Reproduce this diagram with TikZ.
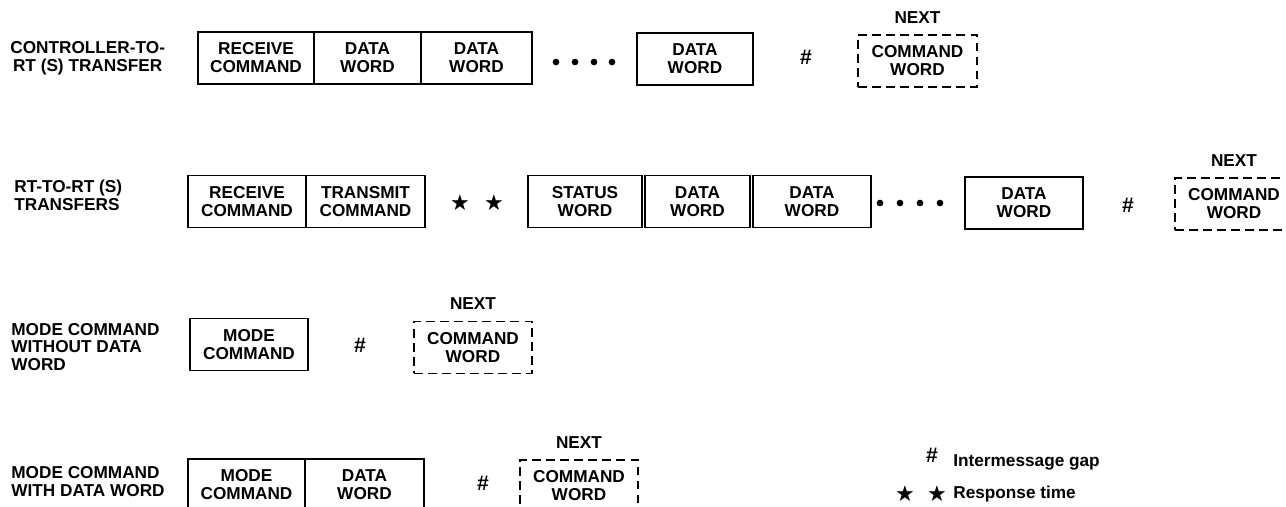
\documentclass[tikz,border=0pt]{standalone}
\usepackage{fontspec}
\setmainfont{Liberation Sans}
\newfontfamily\symfont{DejaVu Sans}
\usetikzlibrary{positioning}

\begin{document}
\begin{tikzpicture}[x=0.02cm, y=-0.02cm,
    every node/.style={inner sep=0pt, font=\bfseries\fontsize{9.8}{10.2}\selectfont},
    wordbox/.style={draw, line width=1.1pt, minimum height=1.04cm, align=center},
    nextbox/.style={wordbox, dash pattern=on 5pt off 3pt},
    gapmark/.style={font=\bfseries\fontsize{12}{12}\selectfont},
    resp/.style={font=\symfont\fontsize{12.5}{12.5}\selectfont}]
    \useasboundingbox (0,0) rectangle (1286,507);
    \clip (0,0) rectangle (1286,507);

    \node[anchor=west, align=center] (lbl1) at (10,58.5) {CONTROLLER-TO-\\RT (S) TRANSFER};
    \node[wordbox, minimum width=2.32cm] (cr) at (256,58) {RECEIVE\\COMMAND};
    \node[wordbox, minimum width=2.14cm] (cd1) at (367.5,58) {DATA\\WORD};
    \node[wordbox, minimum width=2.22cm] (cd2) at (476.5,58) {DATA\\WORD};
    \fill (556,62) circle (1.9pt);
    \fill (575,62) circle (1.9pt);
    \fill (594,62) circle (1.9pt);
    \fill (612,62) circle (1.9pt);
    \node[wordbox, minimum width=2.32cm] (cd3) at (695,59) {DATA\\WORD};
    \node[gapmark] (cg) at (806,57) {\#};
    \node[nextbox, minimum width=2.38cm] (cn) at (917.5,61) {COMMAND\\WORD};
    \node[above=6pt of cn] (cnx) {NEXT};

    \node[anchor=west, align=left] (lbl2) at (14,195) {RT-TO-RT (S)\\TRANSFERS};
    \node[wordbox, minimum width=2.36cm] (rr) at (247,201.5) {RECEIVE\\COMMAND};
    \node[wordbox, minimum width=2.38cm] (rt) at (365.5,201.5) {TRANSMIT\\COMMAND};
    \node[resp] (rs1) at (460,203) {★};
    \node[resp] (rs2) at (494,203) {★};
    \node[wordbox, minimum width=2.28cm] (rs) at (585,201.5) {STATUS\\WORD};
    \node[wordbox, minimum width=2.10cm] (rd1) at (697.5,201.5) {DATA\\WORD};
    \node[wordbox, minimum width=2.36cm] (rd2) at (812,201.5) {DATA\\WORD};
    \fill (880,203) circle (1.9pt);
    \fill (900,203) circle (1.9pt);
    \fill (920,203) circle (1.9pt);
    \fill (940,203) circle (1.9pt);
    \node[wordbox, minimum width=2.36cm] (rd3) at (1024,203) {DATA\\WORD};
    \node[gapmark] (rg) at (1128,205) {\#};
    \node[nextbox, minimum width=2.36cm] (rn) at (1234,204) {COMMAND\\WORD};
    \node[above=6pt of rn] (rnx) {NEXT};

    \node[anchor=west, align=left] (lbl3) at (11,347) {MODE COMMAND\\WITHOUT DATA\\WORD};
    \node[wordbox, minimum width=2.36cm] (mc) at (249,344.5) {MODE\\COMMAND};
    \node[gapmark] (mg) at (360,345) {\#};
    \node[nextbox, minimum width=2.36cm] (mn) at (473,347.5) {COMMAND\\WORD};
    \node[above=6pt of mn] (mnx) {NEXT};

    \node[anchor=west, align=left] (lbl4) at (11,481.5) {MODE COMMAND\\WITH DATA WORD};
    \node[wordbox, minimum width=2.34cm] (wc) at (246.5,485) {MODE\\COMMAND};
    \node[wordbox, minimum width=2.38cm] (wd) at (364.5,485) {DATA\\WORD};
    \node[gapmark] (wg) at (483,483) {\#};
    \node[nextbox, minimum width=2.36cm] (wn) at (579,486) {COMMAND\\WORD};
    \node[above=6pt of wn] (wnx) {NEXT};

    \node[gapmark] (kg) at (932,455) {\#};
    \node[anchor=west] (kgt) at (953,462) {Intermessage gap};
    \node[resp] (ks1) at (905,494) {★};
    \node[resp] (ks2) at (937,494) {★};
    \node[anchor=west] (kst) at (953,494) {Response time};
\end{tikzpicture}
\end{document}
